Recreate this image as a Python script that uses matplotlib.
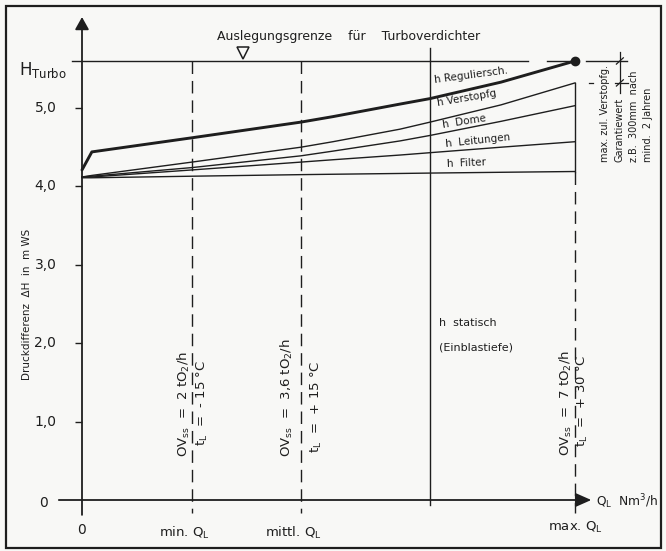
import matplotlib
matplotlib.use('Agg')
import matplotlib.pyplot as plt
from matplotlib.patches import Rectangle

plt.rcParams['font.family'] = ['DejaVu Sans']
plt.rcParams['mathtext.fontset'] = 'dejavusans'

# Durchsatz Q_L (0 = Null, 1 = max. Q_L) und Druckdifferenz in m WS
q_pos = [0.0, 0.02, 0.223, 0.444, 0.509, 0.645, 0.706, 0.85, 1.0]
h_gesamt = [4.21, 4.44, 4.62, 4.82, 4.89, 5.05, 5.12, 5.33, 5.60]
h_verstopfg = [4.12, 4.14, 4.31, 4.50, 4.57, 4.73, 4.82, 5.04, 5.32]
h_dome = [4.12, 4.13, 4.24, 4.39, 4.45, 4.58, 4.65, 4.83, 5.03]
h_leitungen = [4.12, 4.12, 4.21, 4.31, 4.34, 4.40, 4.43, 4.50, 4.57]
h_statisch = [4.11, 4.11, 4.13, 4.15, 4.155, 4.165, 4.17, 4.18, 4.19]

h_turbo = 5.6
q_min, q_mittl, q_max = 0.223, 0.444, 1.0
q_schnitt = 0.706

y_ticks = [1, 2, 3, 4, 5]
y_tick_labels = ['1,0', '2,0', '3,0', '4,0', '5,0']
x_tick_pos = [q_min, q_mittl, q_max]
x_tick_labels = ['min. Q$_\\mathrm{L}$', 'mittl. Q$_\\mathrm{L}$', 'max. Q$_\\mathrm{L}$']

ov_texte = ['OV$_\\mathrm{ss}$  =  2 tO$_2$/h',
            'OV$_\\mathrm{ss}$  =  3,6 tO$_2$/h',
            'OV$_\\mathrm{ss}$  =  7 tO$_2$/h']
tl_texte = ['t$_\\mathrm{L}$  =  - 15 °C',
            't$_\\mathrm{L}$  =  + 15 °C',
            't$_\\mathrm{L}$  =  + 30 °C']

anteile = ['h Reguliersch.', 'h Verstopfg', 'h  Dome', 'h  Leitungen', 'h  Filter']
anteil_pos = [(0.716, 5.32), (0.722, 5.03), (0.732, 4.74), (0.738, 4.50), (0.740, 4.25)]
anteil_winkel = [7.5, 9.5, 9, 6, 2.5]

ink = '#1e1e1e'
bg = '#f8f8f6'

fig = plt.figure(figsize=(6.66, 5.51), dpi=100)
fig.patch.set_facecolor(bg)
ax = fig.add_axes([0, 0, 1, 1])
ax.set_facecolor(bg)
ax.set_xlim(-82 / 493, 584 / 493)
ax.set_ylim(-51 / 78.4, 500 / 78.4)
ax.axis('off')

# Rahmen
fig.patches.append(Rectangle((6 / 666, 3 / 551), 655 / 666, 542 / 551, transform=fig.transFigure,
                             fill=False, lw=1.6, ec=ink))

# Achsen mit Pfeilen
ax.annotate('', xy=(0, 6.16), xytext=(0, -0.19),
            arrowprops=dict(arrowstyle='-|>,head_length=0.75,head_width=0.42', mutation_scale=10,
                            lw=1.3, color=ink, shrinkA=0, shrinkB=0))
ax.annotate('', xy=(1.033, 0), xytext=(-0.047, 0),
            arrowprops=dict(arrowstyle='-|>,head_length=0.95,head_width=0.42', mutation_scale=10,
                            lw=1.3, color=ink, shrinkA=0, shrinkB=0))
ax.hlines(y_ticks, -0.0142, 0, color=ink, lw=1)
for y, lab in zip(y_ticks, y_tick_labels):
    ax.text(-0.052, y, lab, ha='right', va='center', fontsize=10, color=ink)
ax.text(-0.079, -0.04, '0', ha='center', va='center', fontsize=10, color=ink)
ax.text(0, -0.38, '0', ha='center', va='center', fontsize=10, color=ink)
for x, lab in zip(x_tick_pos, x_tick_labels):
    ax.text(x - 0.015 if x < 1 else x, -0.42 if x < 1 else -0.35, lab,
            ha='center', va='center', fontsize=9.5, color=ink)
ax.text(1.043, -0.02, 'Q$_\\mathrm{L}$  Nm$^3$/h', ha='left', va='center', fontsize=8.8, color=ink)

ax.text(-0.112, 2.49, 'Druckdifferenz  ΔH  in  m WS', rotation=90, ha='center', va='center',
        fontsize=7.5, color=ink)
ax.text(-0.128, 5.42, 'H$_\\mathrm{Turbo}$', ha='left', va='baseline', fontsize=12, color=ink)

# Auslegungsgrenze
ax.plot([-0.02, 0.905], [h_turbo, h_turbo], color=ink, lw=1)
ax.plot([0.943, 1.0], [h_turbo, h_turbo], color=ink, lw=1)
ax.plot([1.022, 1.105], [h_turbo, h_turbo], color=ink, lw=1)
ax.plot([q_max], [h_turbo], 'o', color=ink, ms=6)
ax.plot([0.327], [5.70], 'v', ms=8, mfc=bg, mec=ink, mew=1.1)
ax.text(0.54, 5.906, 'Auslegungsgrenze    für    Turboverdichter', ha='center', va='center',
        fontsize=9, color=ink)

# Druckverlust-Kurven
ax.plot(q_pos, h_gesamt, color=ink, lw=2.1, solid_capstyle='round')
for kurve in [h_verstopfg, h_dome, h_leitungen, h_statisch]:
    ax.plot(q_pos, kurve, color=ink, lw=1.0)
ax.plot([q_max, q_max], [h_verstopfg[-1], h_statisch[-1]], color=ink, lw=1.0)

for lab, (x, y), w in zip(anteile, anteil_pos, anteil_winkel):
    ax.text(x, y, lab, rotation=w, rotation_mode='anchor', ha='left', va='baseline',
            fontsize=7.5, color=ink)
ax.text(0.724, 2.26, 'h  statisch', ha='left', va='center', fontsize=8, color=ink)
ax.text(0.724, 1.95, '(Einblastiefe)', ha='left', va='center', fontsize=8, color=ink)

# Betriebspunkte
ax.plot([q_min, q_min], [h_turbo, -0.17], color=ink, lw=1, dashes=(9, 5))
ax.plot([q_mittl, q_mittl], [h_turbo, -0.17], color=ink, lw=1, dashes=(9, 5))
ax.plot([q_max, q_max], [h_statisch[-1], -0.17], color=ink, lw=1, dashes=(9, 5))
ax.plot([q_schnitt, q_schnitt], [5.765, -0.06], color=ink, lw=1)

ov_pos = [(0.207, 1.22), (0.416, 1.31), (0.982, 1.24)]
tl_pos = [(0.245, 1.24), (0.475, 1.19), (1.016, 1.26)]
for txt, (x, y) in zip(ov_texte, ov_pos):
    ax.text(x, y, txt, rotation=90, ha='center', va='center', fontsize=9.5, color=ink)
for txt, (x, y) in zip(tl_texte, tl_pos):
    ax.text(x, y, txt, rotation=90, ha='center', va='center', fontsize=9.5, color=ink)

# Bemaßung Verstopfung
ax.plot([1.091, 1.091], [5.71, 5.19], color=ink, lw=0.9)
ax.plot([1.081, 1.107], [5.32, 5.32], color=ink, lw=0.9)
ax.plot([1.028, 1.036], [5.32, 5.32], color=ink, lw=0.9)
ax.plot([1.084, 1.098], [5.56, 5.64], color=ink, lw=0.9)
ax.plot([1.084, 1.098], [5.28, 5.36], color=ink, lw=0.9)
notiz = ['max. zul. Verstopfg.', 'Garantiewert', 'z.B.  300mm  nach', 'mind.  2 Jahren']
for i, txt in enumerate(notiz):
    ax.text(1.061 + i * 0.029, 4.31, txt, rotation=90, ha='center', va='bottom',
            fontsize=7, color=ink)

fig.savefig('out.png', dpi=100, facecolor=bg)
